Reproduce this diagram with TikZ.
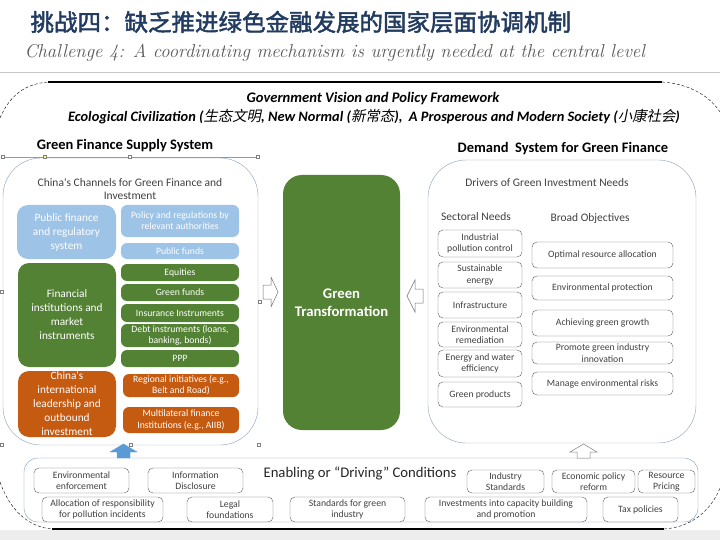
\documentclass[tikz,border=0pt]{standalone}
\usepackage{fontspec}
\newfontfamily\calibri{Carlito}
\newfontfamily\cjkbold{Noto Sans CJK SC}[FakeBold=2]
\newfontfamily\cjkit{Noto Sans CJK SC}[FakeSlant=0.2]

\definecolor{pubblue}{HTML}{9DC3E6}
\definecolor{fingreen}{HTML}{548235}
\definecolor{intorange}{HTML}{C55A11}
\definecolor{titleblue}{HTML}{223B60}
\definecolor{framegray}{HTML}{8C9FB8}
\definecolor{boxgray}{HTML}{5F5F5F}
\definecolor{txtgray}{HTML}{404040}
\definecolor{condblue}{HTML}{7B9BBE}
\definecolor{arrowblue}{HTML}{5B9BD5}

\begin{document}
\begin{tikzpicture}[x=1pt,y=-1pt,
  sz/.style 2 args={minimum width=#1,minimum height=#2},
  fill box/.style={rounded corners=6pt,text=white,align=center,inner sep=0pt,
    font=\calibri\fontsize{9.7}{11.2}\selectfont},
  big box/.style={rounded corners=11pt,text=white,align=center,inner sep=0pt,
    font=\calibri\fontsize{11.3}{14}\selectfont},
  pubbox/.style={fill box,fill=pubblue},
  finbox/.style={fill box,fill=fingreen},
  intbox/.style={fill box,fill=intorange},
  needbox/.style={draw=boxgray,thin,rounded corners=5pt,align=center,inner sep=0pt,
    text=txtgray,font=\calibri\fontsize{9.7}{11.4}\selectfont},
  group/.style={draw=framegray,thin,rounded corners=38pt},
  heading/.style={font=\calibri\bfseries\fontsize{14.5}{16}\selectfont,text=black},
  label/.style={font=\calibri\fontsize{11.5}{13.5}\selectfont,text=txtgray,align=center},
  handle/.style={draw=gray,fill=white,line width=0.4pt,minimum size=3pt,inner sep=0pt}]

\useasboundingbox (0,0) rectangle (720,540);
\fill[black!7] (0,530) rectangle (720,540);

% title
\node[anchor=west,text=titleblue,font=\cjkbold\fontsize{23.5}{25}\selectfont] (title) at (27,22)
  {挑战四：缺乏推进绿色金融发展的国家层面协调机制};
\node[anchor=west,text=black!65,font=\itshape\fontsize{18.7}{20}\selectfont] (subtitle) at (21,53)
  {Challenge 4: A coordinating mechanism is urgently needed at the central level};
\draw[black!22,line width=0.8pt] (0,72) -- (720,72);

% outer frame
\draw[line width=1.6pt] (48,82) -- (662,82);
\draw[line width=1.3pt] (52,529) -- (664,529);
\draw[densely dashed,thin] (0,118) .. controls (10,95) and (25,84) .. (48,82);
\draw[densely dashed,thin] (662,82) .. controls (692,84) and (711,98) .. (720,112);
\draw[densely dashed,thin] (0,482) .. controls (10,510) and (28,527) .. (52,529);
\draw[densely dashed,thin] (664,529) .. controls (694,527) and (712,508) .. (720,488);

\node[font=\calibri\bfseries\itshape\fontsize{14.6}{16}\selectfont] (vision) at (373,99)
  {Government Vision and Policy Framework};
\node[font=\calibri\bfseries\itshape\fontsize{14.4}{16}\selectfont] (goals) at (374,117)
  {Ecological Civilization ({\cjkit\mdseries 生态文明}, New Normal ({\cjkit\mdseries 新常态}),\ \ A Prosperous and Modern Society ({\cjkit\mdseries 小康社会})};

% supply side
\node[heading] (supply) at (125,146) {Green Finance Supply System};
\draw[black!40,line width=0.4pt] (3,157) -- (258,157);
\draw[group] (3,158) rectangle (258,445);
\foreach \x/\y in {3/157,130/157,258/157,2/292,260/302,2/445,131/445,259/445}
  \node[handle] at (\x,\y) {};
\node[handle,fill=yellow!60] at (45,157) {};
\node[label] (channels) at (130,189) {China's Channels for Green Finance and\\Investment};

\node[pubbox,big box,sz={99}{54}] (pubsys) at (66.5,232) {Public finance\\and regulatory\\system};
\node[pubbox,sz={118}{32}] (policy) at (180,221) {Policy and regulations by\\relevant authorities};
\node[pubbox,sz={118}{16}] (pubfunds) at (180,251) {Public funds};

\node[finbox,big box,sz={98}{104}] (finsys) at (67,315) {Financial\\institutions and\\market\\instruments};
\foreach \n/\y/\h/\t in {eq/272.5/17/Equities,gf/292.5/17/Green funds,ins/313/18/Insurance Instruments,
    debt/335.5/23/{Debt instruments (loans,\\banking, bonds)},ppp/358.5/17/PPP}
  \node[finbox,sz={118}{\h}] (\n) at (180,\y) {\t};

\node[intbox,big box,sz={98}{66}] (intl) at (67,404) {China's\\international\\leadership and\\outbound\\investment};
\node[intbox,sz={116}{23}] (bri) at (181,385.5) {Regional initiatives (e.g.,\\Belt and Road)};
\node[intbox,sz={116}{26}] (aiib) at (181,420) {Multilateral finance\\Institutions (e.g., AIIB)};

% centre
\node[fill=fingreen,rounded corners=19pt,sz={117}{255},text=white,align=center,
  font=\calibri\bfseries\fontsize{14.7}{18}\selectfont] (green) at (341.5,302.5) {Green\\Transformation};
\draw[black!55,fill=white,line width=0.5pt]
  (263,285) -- (271,285) -- (271,277) -- (278,292) -- (271,307) -- (271,299) -- (263,299) -- cycle;
\draw[black!55,fill=white,line width=0.5pt]
  (423,289) -- (415,289) -- (415,280) -- (407,296) -- (415,312) -- (415,303) -- (423,303) -- cycle;

% demand side
\node[heading] (demand) at (563,149) {Demand\ \ System for Green Finance};
\draw[group] (428,160) rectangle (696,443);
\node[label] (drivers) at (547,183) {Drivers of Green Investment Needs};
\node[label] (sectoral) at (476,217) {Sectoral Needs};
\node[label] (broad) at (590,218) {Broad Objectives};
\foreach \n/\y/\h/\t in {poll/243.5/27/{Industrial\\pollution control},energy/275/26/{Sustainable\\energy},
    infra/305/26/Infrastructure,remed/334.5/25/{Environmental\\remediation},
    effic/363.5/27/{Energy and water\\efficiency},prod/394.5/25/Green products}
  \node[needbox,sz={84}{\h}] (\n) at (480,\y) {\t};
\foreach \n/\y/\h/\t in {alloc/255/26/Optimal resource allocation,protect/288/24/Environmental protection,
    growth/323/26/Achieving green growth,innov/353/22/{Promote green industry\\innovation},
    risk/383.5/23/Manage environmental risks}
  \node[needbox,sz={141}{\h}] (\n) at (602.5,\y) {\t};

% enabling conditions
\draw[condblue,thin,rounded corners=14pt] (24,458) rectangle (698,522);
\draw[arrowblue,fill=arrowblue] (110,452) -- (123.5,444) -- (137,452) -- (130,452) -- (130,458) -- (117,458) -- (117,452) -- cycle;
\draw[black!50,fill=white,line width=0.5pt] (570,452) -- (583.5,444) -- (597,452) -- (590,452) -- (590,458) -- (577,458) -- (577,452) -- cycle;
\node[font=\calibri\fontsize{14.7}{16}\selectfont,text=black!85] (enabling) at (360,473)
  {Enabling or “Driving” Conditions};
\foreach \n/\x/\w/\t in {enforce/81.5/95/{Environmental\\enforcement},disclose/195.5/95/{Information\\Disclosure}}
  \node[needbox,sz={\w}{25}] (\n) at (\x,480.5) {\t};
\foreach \n/\x/\w/\t in {indstd/505.5/77/{Industry\\Standards},reform/593.5/83/{Economic policy\\reform},
    pricing/666.5/57/{Resource\\Pricing}}
  \node[needbox,sz={\w}{23}] (\n) at (\x,481.5) {\t};
\foreach \n/\x/\w/\t in {resp/102.5/121/{Allocation of responsibility\\for pollution incidents},
    legal/230/86/{Legal\\foundations},stdgreen/347.5/115/{Standards for green\\industry},
    capacity/506/162/{Investments into capacity building\\and promotion},tax/640.5/75/Tax policies}
  \node[needbox,sz={\w}{25}] (\n) at (\x,509.5) {\t};
\end{tikzpicture}
\end{document}
